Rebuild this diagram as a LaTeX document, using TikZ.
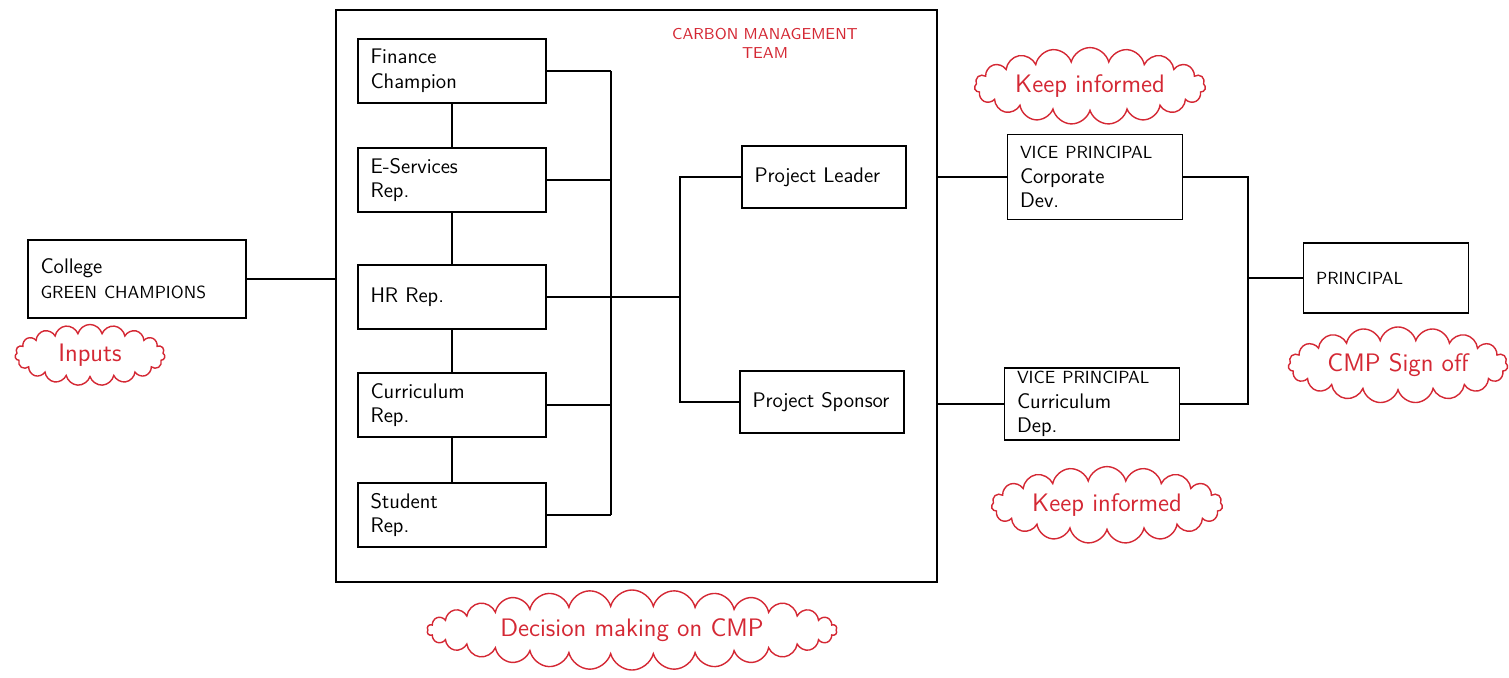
\documentclass[tikz,border=0pt]{standalone}
\usepackage{tikz}
\usepackage{amssymb}
\usepackage{amsmath}
\usetikzlibrary{shapes.symbols}
\definecolor{penred}{RGB}{212,40,52}

\begin{document}
\begin{tikzpicture}[x=0.02cm, y=-0.02cm, line width=1pt,
  box/.style={draw, align=left, inner xsep=0.25cm, inner ysep=2pt, font=\sffamily\large},
  member/.style={box, text width=3.26cm, minimum height=1.28cm},
  lead/.style={box, text width=2.78cm, minimum height=1.24cm},
  vp/.style={box, text width=3.0cm},
  note/.style={cloud, cloud puffs=19, cloud ignores aspect, draw=penred, text=penred, font=\sffamily\Large, line width=0.8pt}]

\useasboundingbox (0, 0) rectangle (1509, 677);

\node[draw, minimum width=12.02cm, minimum height=11.44cm] (cmt) at (636.5, 296) {};
\node[text=penred, align=center, font=\sffamily\small] (cmttitle) at (765, 43) {CARBON MANAGEMENT\\TEAM};

\node[box, text width=3.86cm, minimum height=1.56cm] (college) at (137, 279) {College\\{\normalsize GREEN CHAMPIONS}};

\node[member] (fin) at (452, 71) {Finance\\Champion};
\node[member] (eserv) at (452, 180) {E-Services\\Rep.};
\node[member] (hr) at (452, 297) {HR Rep.};
\node[member] (curr) at (452, 405) {Curriculum\\Rep.};
\node[member] (stud) at (452, 515) {Student\\Rep.};

\node[lead] (leader) at (824, 177) {Project Leader};
\node[lead] (sponsor) at (822, 402) {Project Sponsor};

\node[vp, minimum height=1.7cm] (vpcorp) at (1095, 177) {{\normalsize VICE PRINCIPAL}\\Corporate\\Dev.};
\node[vp, minimum height=1.4cm] (vpcurr) at (1092, 404) {{\normalsize VICE PRINCIPAL}\\Curriculum\\Dep.};
\node[box, font=\sffamily, text width=2.8cm, minimum height=1.4cm] (principal) at (1386, 278) {PRINCIPAL};

\node[note, minimum width=3.0cm, minimum height=1.0cm] (inputs) at (90, 355) {Inputs};
\node[note, cloud puffs=30, minimum width=8.2cm, minimum height=1.35cm] (decision) at (632, 630) {Decision making on CMP};
\node[note, minimum width=4.5cm, minimum height=1.2cm] (keeptop) at (1090, 86) {Keep informed};
\node[note, minimum width=4.6cm, minimum height=1.25cm] (keepbot) at (1107, 505) {Keep informed};
\node[note, minimum width=4.25cm, minimum height=1.05cm] (signoff) at (1398, 365) {CMP Sign off};

\coordinate (teambus) at (611, 71);
\coordinate (split) at (680, 297);
\coordinate (join) at (1248, 278);

\draw (college) to (college -| cmt.west);

\draw (fin) to (eserv);
\draw (eserv) to (hr);
\draw (hr) to (curr);
\draw (curr) to (stud);

\draw (fin) to (fin -| teambus);
\draw (eserv) to (eserv -| teambus);
\draw (curr) to (curr -| teambus);
\draw (stud) to (stud -| teambus);
\draw (teambus) to (stud -| teambus);

\draw (hr) to (split);
\draw (leader) -| (split);
\draw (sponsor) -| (split);

\draw (vpcorp) to (vpcorp -| cmt.east);
\draw (vpcurr) to (vpcurr -| cmt.east);
\draw (vpcorp) -| (join);
\draw (vpcurr) -| (join);
\draw (principal) to (join);

\end{tikzpicture}
\end{document}
